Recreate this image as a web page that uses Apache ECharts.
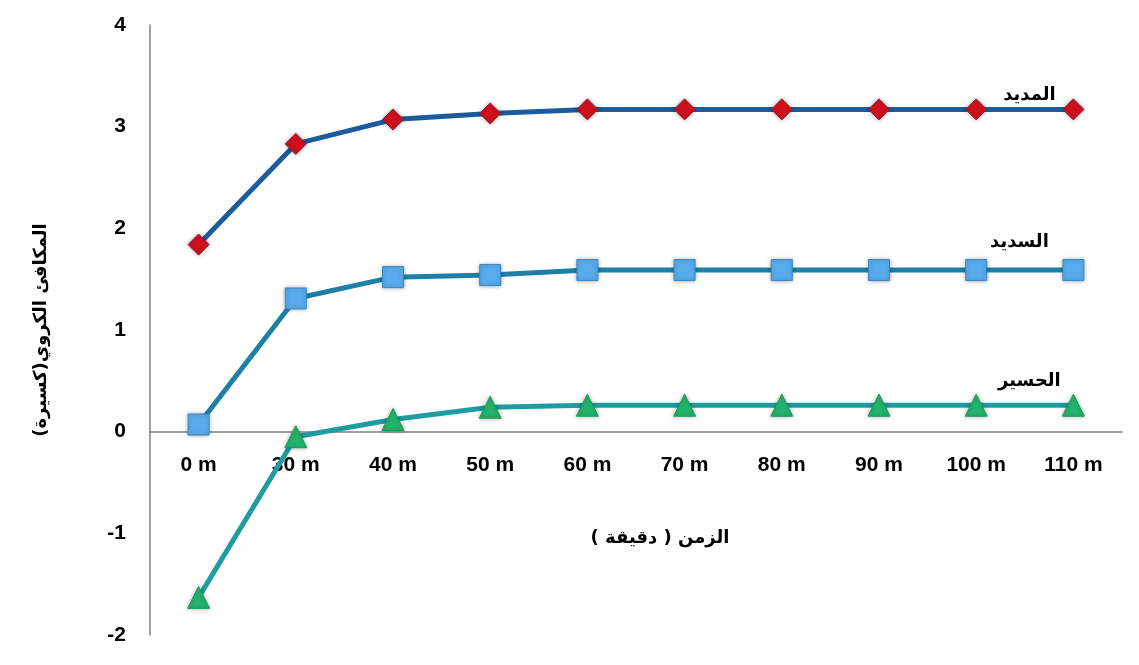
<!DOCTYPE html>
<html><head><meta charset="utf-8">
<script src="https://cdn.jsdelivr.net/npm/echarts@6/dist/echarts.min.js"></script>
<style>html,body{margin:0;padding:0;background:#fff}#c{width:1139px;height:665px}</style>
</head><body><div id="c"></div>
<script>
var categories = ['0 m','30 m','40 m','50 m','60 m','70 m','80 m','90 m','100 m','110 m'];
var seriesNames = ['المديد','السديد','الحسير'];
var madeed = [1.84, 2.83, 3.07, 3.13, 3.17, 3.17, 3.17, 3.17, 3.17, 3.17];
var sadeed = [0.07, 1.31, 1.52, 1.54, 1.59, 1.59, 1.59, 1.59, 1.59, 1.59];
var haseer = [-1.63, -0.05, 0.12, 0.24, 0.26, 0.26, 0.26, 0.26, 0.26, 0.26];
var yTicks = [-2, -1, 0, 1, 2, 3, 4];
var xTitle = 'الزمن ( دقيقة )';
var yTitle = 'المكافئ الكروي(كسيرة)';

var arFont = 'DejaVu Sans';
var gridTop = 25, gridBottom = 30, H = 665;
var yMin = yTicks[0], yMax = yTicks[yTicks.length - 1];
var plotH = H - gridTop - gridBottom;
// move x axis up from the grid bottom to the zero line
var xOffset = -plotH * (0 - yMin) / (yMax - yMin);

function withEndLabel(arr, name, off) {
  return arr.map(function (v, i) {
    if (i !== arr.length - 1) return v;
    return { value: v, label: { show: true, formatter: name, position: 'inside', offset: off,
      color: '#000', fontFamily: arFont, fontWeight: 'bold', fontSize: 18 } };
  });
}
var chart = echarts.init(document.getElementById('c'));
chart.setOption({
  backgroundColor: '#ffffff',
  animation: false,
  grid: { left: 150, right: 17, top: gridTop, bottom: gridBottom, containLabel: false, outerBoundsMode: 'none' },
  xAxis: {
    type: 'category', data: categories, boundaryGap: true,
    position: 'bottom', offset: xOffset,
    axisLine: { onZero: false, lineStyle: { color: '#808080', width: 1.5 } },
    axisTick: { show: false },
    axisLabel: { color: '#000', fontFamily: 'Liberation Sans', fontWeight: 'bold', fontSize: 21, margin: 23 },
    name: xTitle, nameLocation: 'middle', nameGap: 98,
    nameTextStyle: { color: '#000', fontFamily: arFont, fontWeight: 'bold', fontSize: 18, padding: [0, 0, 0, 48] }
  },
  yAxis: {
    type: 'value', min: yMin, max: yMax, interval: 1,
    splitLine: { show: false },
    axisLine: { show: true, lineStyle: { color: '#808080', width: 1.5 } },
    axisTick: { show: false },
    axisLabel: { color: '#000', fontFamily: 'Liberation Sans', fontWeight: 'bold', fontSize: 21, margin: 24 },
    name: yTitle, nameLocation: 'middle', nameGap: 100, nameRotate: 90,
    nameTextStyle: { color: '#000', fontFamily: arFont, fontWeight: 'bold', fontSize: 18 }
  },
  series: [
    { name: seriesNames[0], type: 'line', data: withEndLabel(madeed, seriesNames[0], [-44, -14]),
      symbol: 'diamond', symbolSize: 21,
      lineStyle: { color: '#1c5c9c', width: 5 },
      itemStyle: { color: '#d0101c', borderColor: '#8c2040', borderWidth: 1, shadowBlur: 4, shadowColor: 'rgba(0,0,0,0.35)' } },
    { name: seriesNames[1], type: 'line', data: withEndLabel(sadeed, seriesNames[1], [-54, -28]),
      symbol: 'rect', symbolSize: 21,
      lineStyle: { color: '#1e80a6', width: 5 },
      itemStyle: { color: '#58acec', borderColor: '#3a86c6', borderWidth: 1, shadowBlur: 4, shadowColor: 'rgba(0,0,0,0.3)' } },
    { name: seriesNames[2], type: 'line', data: withEndLabel(haseer, seriesNames[2], [-44, -24]),
      symbol: 'triangle', symbolSize: 22,
      lineStyle: { color: '#1f9ca0', width: 5 },
      itemStyle: { color: '#22b46c', borderColor: '#1a9a5a', borderWidth: 1, shadowBlur: 4, shadowColor: 'rgba(0,0,0,0.3)' } }
  ]
});
</script></body></html>
